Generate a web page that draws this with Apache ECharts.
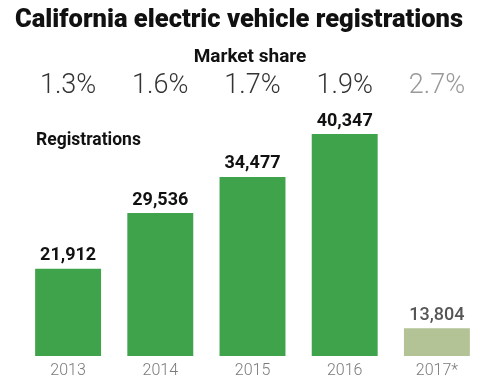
<!DOCTYPE html>
<html><head><meta charset="utf-8">
<script src="https://cdn.jsdelivr.net/npm/echarts@6/dist/echarts.min.js"></script>
<style>html,body{margin:0;padding:0;background:#fff}#c{width:500px;height:387px}</style>
</head><body><div id="c"></div>
<script>
const categories = ['2013', '2014', '2015', '2016', '2017*'];
const registrations = [21912, 29536, 34477, 40347, 13804];
const marketShare = ['1.3%', '1.6%', '1.7%', '1.9%', '2.7%'];

const FONT = 'Roboto, "Noto Sans", sans-serif';
const last = categories.length - 1;
const chart = echarts.init(document.getElementById('c'));
chart.setOption({
  animation: false,
  title: [
    { text: 'California electric vehicle registrations', left: 10, top: 3,
      textStyle: { fontFamily: FONT, fontSize: 25.5, fontWeight: 900, color: '#111' } },
    { text: 'Market share', left: 245, textAlign: 'center', top: 43,
      textStyle: { fontFamily: FONT, fontSize: 19, fontWeight: 'bold', color: '#111' } },
    { text: 'Registrations', left: 31, top: 127,
      textStyle: { fontFamily: FONT, fontSize: 17.5, fontWeight: 'bold', color: '#111' } }
  ],
  grid: { left: 22, right: 17, top: 100, bottom: 31 },
  xAxis: [
    { type: 'category', data: categories, position: 'bottom',
      axisLine: { show: false }, axisTick: { show: false },
      axisLabel: { margin: 7, fontFamily: FONT, fontSize: 16, fontWeight: 300, color: '#7a7a7a' } },
    { type: 'category', data: marketShare, position: 'top',
      axisLine: { show: false }, axisTick: { show: false },
      axisLabel: { margin: 0, fontFamily: FONT, fontSize: 27, fontWeight: 300,
        color: (v, i) => i === last ? '#999' : '#333' } }
  ],
  yAxis: { type: 'value', min: 10000, max: 45000, show: false, splitLine: { show: false } },
  series: [{
    type: 'bar', barCategoryGap: '28.5%',
    data: registrations.map((v, i) => ({
      value: v,
      itemStyle: { color: i === last ? '#b3c395' : '#3ea34a' },
      label: i === last ? { color: '#555', fontWeight: 500 } : undefined
    })),
    label: { show: true, position: 'top', distance: 4, fontFamily: FONT, fontSize: 18,
      fontWeight: 'bold', color: '#111',
      formatter: p => p.value.toLocaleString('en-US') }
  }]
});
</script></body></html>
